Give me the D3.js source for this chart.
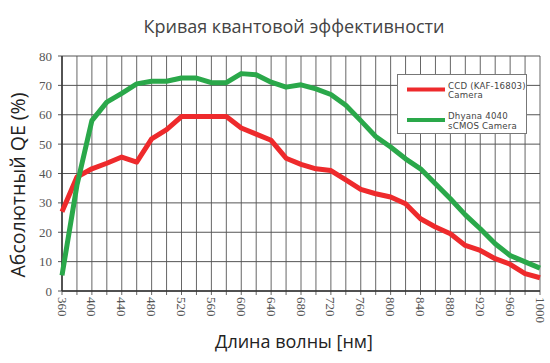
<!DOCTYPE html>
<html>
<head>
<meta charset="utf-8">
<script src="https://d3js.org/d3.v7.min.js"></script>
<style>
  body { margin: 0; background: #fff; }
  text { font-family: "Open Sans", sans-serif; }
</style>
</head>
<body>
<div id="chart"></div>
<script>
// wavelengths (nm), one point every 20 nm
var wavelengths = [360, 380, 400, 420, 440, 460, 480, 500, 520, 540, 560, 580, 600, 620, 640, 660, 680,
  700, 720, 740, 760, 780, 800, 820, 840, 860, 880, 900, 920, 940, 960, 980, 1000];
var ccdQE = [27, 38.8, 41.6, 43.5, 45.6, 43.9, 51.8, 54.9, 59.4, 59.4, 59.4, 59.4, 55.5, 53.4, 51.3, 45.2,
  43.1, 41.6, 41, 37.8, 34.6, 33.1, 32, 29.7, 24.6, 21.8, 19.5, 15.5, 13.8, 11, 9.1, 5.9, 4.5];
var sCmosQE = [5.3, 36, 58, 64.3, 67.3, 70.5, 71.4, 71.4, 72.5, 72.5, 70.9, 70.9, 74, 73.6, 71.1, 69.4,
  70.2, 68.8, 66.9, 63.2, 58, 52.6, 49, 45, 41.6, 36.5, 31.4, 25.9, 21.2, 16.1, 12.1, 9.9, 7.8];
var xTicks = [360, 400, 440, 480, 520, 560, 600, 640, 680, 720, 760, 800, 840, 880, 920, 960, 1000];
var yTicks = [0, 10, 20, 30, 40, 50, 60, 70, 80];
var seriesNames = [["CCD (KAF-16803)", "Camera"], ["Dhyana 4040", "sCMOS Camera"]];
var seriesColors = ["#ee2a2c", "#2aa84a"];

var width = 550, height = 363;
var margin = {left: 62, right: 10, top: 56, bottom: 72};

var svg = d3.select("#chart").append("svg")
  .attr("width", width).attr("height", height);

var x = d3.scaleLinear().domain([360, 1000]).range([margin.left, 540]);
var y = d3.scaleLinear().domain([0, 80]).range([291, margin.top]);

// grid
var g = svg.append("g");
g.selectAll(".vgrid").data(d3.range(360, 1001, 20)).enter().append("line")
  .attr("x1", d => x(d)).attr("x2", d => x(d))
  .attr("y1", y(80)).attr("y2", y(0) + 4)
  .attr("stroke", "#666").attr("stroke-width", 1);
g.selectAll(".hgrid").data(yTicks).enter().append("line")
  .attr("x1", x(360) - 4).attr("x2", x(1000))
  .attr("y1", d => y(d)).attr("y2", d => y(d))
  .attr("stroke", "#555").attr("stroke-width", 1);
// axes
g.append("line").attr("x1", x(360)).attr("x2", x(360)).attr("y1", y(80)).attr("y2", y(0))
  .attr("stroke", "#333").attr("stroke-width", 1.5);
g.append("line").attr("x1", x(360)).attr("x2", x(1000)).attr("y1", y(0)).attr("y2", y(0))
  .attr("stroke", "#333").attr("stroke-width", 1.5);

// y tick labels
svg.selectAll(".ylab").data(yTicks).enter().append("text")
  .attr("x", 52).attr("y", d => y(d) + 4.5)
  .attr("text-anchor", "end")
  .style("font-family", "Liberation Serif, serif").style("font-size", "13px")
  .attr("fill", "#555")
  .text(d => d);

// x tick labels, rotated
svg.selectAll(".xlab").data(xTicks).enter().append("text")
  .attr("transform", d => "translate(" + (x(d) - 4.5) + "," + 297 + ") rotate(90)")
  .attr("text-anchor", "start")
  .style("font-family", "Liberation Serif, serif").style("font-size", "13px")
  .attr("fill", "#555")
  .text(d => d);

// lines
var line = d3.line()
  .x((d, i) => x(wavelengths[i]))
  .y(d => y(d));
[ccdQE, sCmosQE].forEach(function(s, i) {
  svg.append("path").datum(s)
    .attr("d", line)
    .attr("fill", "none")
    .attr("stroke", seriesColors[i])
    .attr("stroke-width", 5)
    .attr("stroke-linejoin", "round");
});

// legend
var lg = svg.append("g");
lg.append("rect").attr("x", 397.5).attr("y", 74.5).attr("width", 129).attr("height", 59)
  .attr("fill", "#fff").attr("stroke", "#777").attr("stroke-width", 1);
seriesNames.forEach(function(n, i) {
  var yy = 89.5 + i * 30.5;
  lg.append("line").attr("x1", 407).attr("x2", 445).attr("y1", yy).attr("y2", yy)
    .attr("stroke", seriesColors[i]).attr("stroke-width", 4);
  n.forEach(function(t, j) {
    lg.append("text").attr("x", 448).attr("y", yy - 1 + j * 9.5)
      .style("font-family", "DejaVu Sans, sans-serif").style("font-size", "8.6px")
      .style("letter-spacing", "0.2px")
      .attr("fill", "#444").text(t);
  });
});

// titles
svg.append("text").attr("x", 294).attr("y", 33).attr("text-anchor", "middle")
  .style("font-size", "18px").attr("fill", "#444")
  .text("Кривая квантовой эффективности");
svg.append("text").attr("x", 294).attr("y", 348).attr("text-anchor", "middle")
  .style("font-size", "18px").attr("fill", "#222")
  .text("Длина волны [нм]");
svg.append("text").attr("transform", "translate(25,185) rotate(-90)").attr("text-anchor", "middle")
  .style("font-size", "19.5px").attr("fill", "#222")
  .text("Абсолютный QE (%)");
</script>
</body>
</html>
